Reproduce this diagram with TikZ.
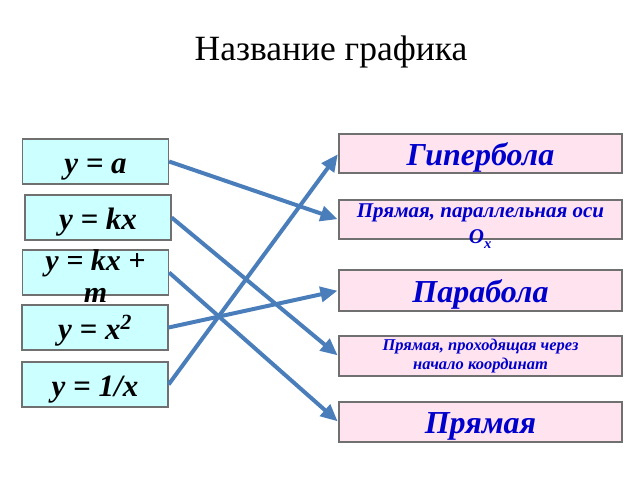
\documentclass[tikz,border=0pt]{standalone}
\usepackage{fontspec}
\setmainfont{Liberation Serif}
\usetikzlibrary{arrows.meta}
\definecolor{lcyan}{HTML}{CCFFFF}
\definecolor{lpink}{HTML}{FFE4F0}
\definecolor{bord}{HTML}{707070}
\definecolor{arr}{HTML}{4A7EBB}
\definecolor{tblue}{HTML}{0000CC}
\begin{document}
\begin{tikzpicture}[x=1pt,y=-1pt,
  lbox/.style={draw=bord,line width=1.2pt,fill=lcyan,minimum width=146pt,minimum height=45pt,inner sep=0pt,
     text height=23pt,text depth=0pt,
     font=\fontsize{31}{33}\selectfont\bfseries\itshape},
  rbox/.style={draw=bord,line width=1.2pt,fill=lpink,minimum width=283pt,minimum height=39pt,inner sep=0pt,
     text height=23pt,text depth=0pt,
     text=tblue,font=\fontsize{32}{34}\selectfont\bfseries\itshape},
  txt/.style={inner sep=0pt,align=center},
  conn/.style={draw=arr,line width=4pt,-{Triangle[length=17pt,width=15pt]},shorten >=1pt}
]
\useasboundingbox (0,0) rectangle (640,480);
\node[inner sep=0pt,font=\fontsize{35.5}{38}\selectfont] (title) at (331,52) {Название графика};

\node[lbox] (l1) at (95.5,161.5) {y = a};
\node[lbox] (l2) at (98,217.5) {y = kx};
\node[lbox,text height=0pt] (l3) at (95.5,272.5) {};
\node[txt,font=\fontsize{30}{32}\selectfont\bfseries\itshape] (l3t) at (95.5,276) {y = kx +\\m};
\node[lbox] (l4) at (95,327.5) {y = x\textsuperscript{2}};
\node[lbox] (l5) at (95,384.5) {y = 1/x};

\node[rbox] (r1) at (480.5,153.5) {Гипербола};
\node[rbox,text height=0pt] (r2) at (480.5,219.5) {};
\node[txt,text=tblue,font=\fontsize{21}{26}\selectfont\bfseries\itshape] (r2t) at (480.5,226) {Прямая, параллельная оси\\O\textsubscript{\raisebox{-2pt}{x}}};
\node[rbox,minimum height=41pt] (r3) at (480.5,290.5) {Парабола};
\node[rbox,minimum height=40pt,text height=0pt] (r4) at (480.5,356) {};
\node[txt,text=tblue,font=\fontsize{16.5}{19}\selectfont\bfseries\itshape] (r4t) at (480.5,356) {Прямая, проходящая через\\начало координат};
\node[rbox,minimum height=40pt] (r5) at (480.5,422) {Прямая};

\draw[conn] (l1.east) -- (r2.west);
\draw[conn] (l2.east) -- (r4.west);
\draw[conn] (l3.east) -- (r5.west);
\draw[conn] (l4.east) -- (r3.west);
\draw[conn] (l5.east) -- (r1.west);
\end{tikzpicture}
\end{document}
